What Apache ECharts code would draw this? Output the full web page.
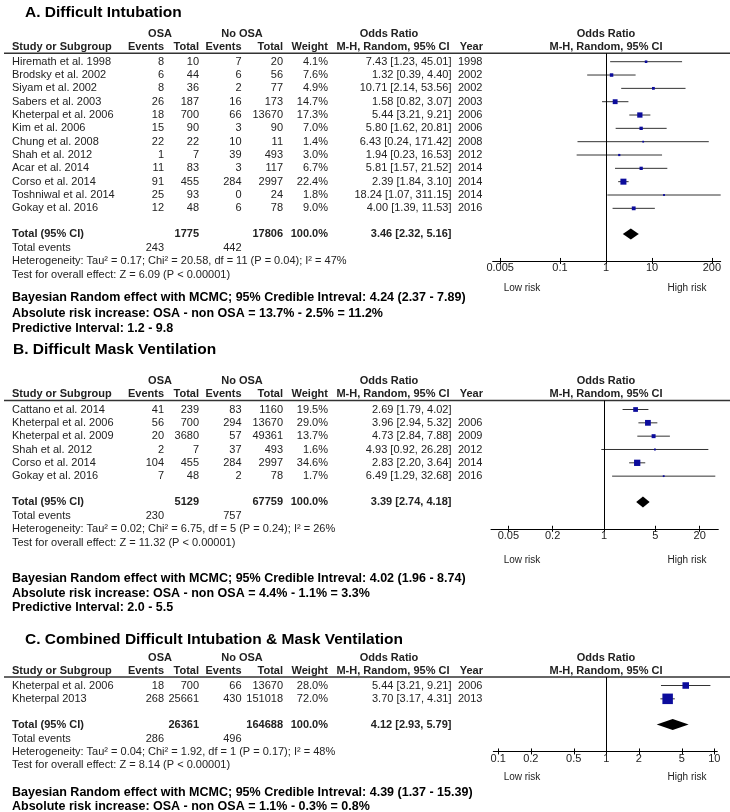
<!DOCTYPE html>
<html><head><meta charset="utf-8">
<script src="https://cdn.jsdelivr.net/npm/echarts@6/dist/echarts.min.js"></script>
<style>html,body{margin:0;padding:0;background:#fff}#c{width:730px;height:812px}</style>
</head><body><div id="c"></div>
<script>
// ---------- DATA : Panel A (Difficult Intubation) ----------
const studiesA = ['Hiremath et al. 1998','Brodsky et al. 2002','Siyam et al. 2002','Sabers et al. 2003','Kheterpal et al. 2006','Kim et al. 2006','Chung et al. 2008','Shah et al. 2012','Acar et al. 2014','Corso et al. 2014','Toshniwal et al. 2014','Gokay et al. 2016'];
const osaEventsA = [8,6,8,26,18,15,22,1,11,91,25,12];
const osaTotalA  = [10,44,36,187,700,90,22,7,83,455,93,48];
const noEventsA  = [7,6,2,16,66,3,10,39,3,284,0,6];
const noTotalA   = [20,56,77,173,13670,90,11,493,117,2997,24,78];
const weightA    = [4.1,7.6,4.9,14.7,17.3,7.0,1.4,3.0,6.7,22.4,1.8,9.0];
const orA        = [7.43,1.32,10.71,1.58,5.44,5.80,6.43,1.94,5.81,2.39,18.24,4.00];
const lowA       = [1.23,0.39,2.14,0.82,3.21,1.62,0.24,0.23,1.57,1.84,1.07,1.39];
const highA      = [45.01,4.40,53.56,3.07,9.21,20.81,171.42,16.53,21.52,3.10,311.15,11.53];
const yearA      = ['1998','2002','2002','2003','2006','2006','2008','2012','2014','2014','2014','2016'];
const totalsA    = [1775,17806];
const eventsA    = [243,442];
const pooledA    = [3.46,2.32,5.16];
const ticksA     = [0.005,0.1,1,10,200];
const tickLabelsA= ['0.005','0.1','1','10','200'];
const statsA = ['Heterogeneity: Tau² = 0.17; Chi² = 20.58, df = 11 (P = 0.04); I² = 47%','Test for overall effect: Z = 6.09 (P < 0.00001)'];
const notesA = ['Bayesian Random effect with MCMC; 95% Credible Intreval: 4.24 (2.37 - 7.89)','Absolute risk increase: OSA - non OSA = 13.7% - 2.5% = 11.2%','Predictive Interval: 1.2 - 9.8'];

// ---------- DATA : Panel B (Difficult Mask Ventilation) ----------
const studiesB = ['Cattano et al. 2014','Kheterpal et al. 2006','Kheterpal et al. 2009','Shah et al. 2012','Corso et al. 2014','Gokay et al. 2016'];
const osaEventsB = [41,56,20,2,104,7];
const osaTotalB  = [239,700,3680,7,455,48];
const noEventsB  = [83,294,57,37,284,2];
const noTotalB   = [1160,13670,49361,493,2997,78];
const weightB    = [19.5,29.0,13.7,1.6,34.6,1.7];
const orB        = [2.69,3.96,4.73,4.93,2.83,6.49];
const lowB       = [1.79,2.94,2.84,0.92,2.20,1.29];
const highB      = [4.02,5.32,7.88,26.28,3.64,32.68];
const yearB      = ['','2006','2009','2012','2014','2016'];
const totalsB    = [5129,67759];
const eventsB    = [230,757];
const pooledB    = [3.39,2.74,4.18];
const ticksB     = [0.05,0.2,1,5,20];
const tickLabelsB= ['0.05','0.2','1','5','20'];
const statsB = ['Heterogeneity: Tau² = 0.02; Chi² = 6.75, df = 5 (P = 0.24); I² = 26%','Test for overall effect: Z = 11.32 (P < 0.00001)'];
const notesB = ['Bayesian Random effect with MCMC; 95% Credible Intreval: 4.02 (1.96 - 8.74)','Absolute risk increase: OSA - non OSA = 4.4% - 1.1% = 3.3%','Predictive Interval: 2.0 - 5.5'];

// ---------- DATA : Panel C (Combined) ----------
const studiesC = ['Kheterpal et al. 2006','Kheterpal 2013'];
const osaEventsC = [18,268];
const osaTotalC  = [700,25661];
const noEventsC  = [66,430];
const noTotalC   = [13670,151018];
const weightC    = [28.0,72.0];
const orC        = [5.44,3.70];
const lowC       = [3.21,3.17];
const highC      = [9.21,4.31];
const yearC      = ['2006','2013'];
const totalsC    = [26361,164688];
const eventsC    = [286,496];
const pooledC    = [4.12,2.93,5.79];
const ticksC     = [0.1,0.2,0.5,1,2,5,10];
const tickLabelsC= ['0.1','0.2','0.5','1','2','5','10'];
const statsC = ['Heterogeneity: Tau² = 0.04; Chi² = 1.92, df = 1 (P = 0.17); I² = 48%','Test for overall effect: Z = 8.14 (P < 0.00001)'];
const notesC = ['Bayesian Random effect with MCMC; 95% Credible Intreval: 4.39 (1.37 - 15.39)','Absolute risk increase: OSA - non OSA = 1.1% - 0.3% = 0.8%'];

const titles = ['A. Difficult Intubation','B. Difficult Mask Ventilation','C. Combined Difficult Intubation & Mask Ventilation'];

// ---------- LAYOUT ----------
const FONT = '"Liberation Sans", Arial, Helvetica, sans-serif';
const INK = '#222';
const ROW = 13.33;
const COL = {name:12, ev1:164, tot1:199, ev2:241.5, tot2:283, wt:328, or:451.5, orHdr:449.5, year:458, yearHdr:483, osaC:160, noC:242, orC:389, fpC:606, low:522, high:687};
const layouts = [
  {tx:25, ty:13,  line:53.3,  row0:61.7,  gl:492.7, gr:720.7, xmin:-2.463, xmax:2.493, riskY:288, notesY:[298,313.5,328.5], sq:6},
  {tx:13, ty:350, line:400.5, row0:409.5, gl:491,   gr:718.3, xmin:-1.537, xmax:1.555, riskY:560, notesY:[579,593.5,607.5], sq:6.3},
  {tx:25, ty:640, line:677,   row0:685.5, gl:493.3, gr:717.3, xmin:-1.046, xmax:1.028, riskY:777, notesY:[793,807], sq:10.5}
];
const panels = [
  {studies:studiesA, ev1:osaEventsA, tot1:osaTotalA, ev2:noEventsA, tot2:noTotalA, w:weightA, or:orA, lo:lowA, hi:highA, yr:yearA, totals:totalsA, events:eventsA, pooled:pooledA, ticks:ticksA, labels:tickLabelsA, stats:statsA, notes:notesA},
  {studies:studiesB, ev1:osaEventsB, tot1:osaTotalB, ev2:noEventsB, tot2:noTotalB, w:weightB, or:orB, lo:lowB, hi:highB, yr:yearB, totals:totalsB, events:eventsB, pooled:pooledB, ticks:ticksB, labels:tickLabelsB, stats:statsB, notes:notesB},
  {studies:studiesC, ev1:osaEventsC, tot1:osaTotalC, ev2:noEventsC, tot2:noTotalC, w:weightC, or:orC, lo:lowC, hi:highC, yr:yearC, totals:totalsC, events:eventsC, pooled:pooledC, ticks:ticksC, labels:tickLabelsC, stats:statsC, notes:notesC}
];

function txt(x, y, s, o) {
  o = o || {};
  return {type:'text', x:x, y:y, silent:true, z:10,
    style:{text:String(s), fill:o.fill || INK, font:(o.bold ? 'bold ' : '') + (o.size || 11) + 'px ' + FONT,
      textAlign:o.align || 'left', textVerticalAlign:'middle', verticalAlign:'middle'}};
}
const fmtCI = (a,b,c) => a.toFixed(2) + ' [' + b.toFixed(2) + ', ' + c.toFixed(2) + ']';

const grids = [], xAxes = [], yAxes = [], series = [], graphics = [];

panels.forEach((D, gi) => {
  const L = layouts[gi];
  const n = D.studies.length;
  const rowY = r => L.row0 + r * ROW;
  const totalR = n + 0.93;
  const totalY = rowY(totalR);
  const evY = totalY + 14;
  const hetY = totalY + 27.4;
  const testY = hetY + 13.4;
  const axisY = hetY - 0.5;

  grids.push({left:L.gl, width:L.gr - L.gl, top:L.line, height:axisY - L.line, containLabel:false});
  const lv = D.ticks.map(Math.log10);
  const labs = D.labels;
  const fmt = v => { let k = 0, d = 1e9; lv.forEach((t,i) => { const e = Math.abs(t - v); if (e < d) { d = e; k = i; } }); return labs[k]; };
  xAxes.push({type:'value', gridIndex:gi, min:L.xmin, max:L.xmax, position:'bottom',
    axisLine:{show:true, onZero:false, lineStyle:{color:'#000', width:1}},
    axisTick:{show:true, customValues:lv, length:3, inside:false, lineStyle:{color:'#000', width:1}},
    axisLabel:{show:true, customValues:lv, margin:2, color:INK, fontSize:11, fontFamily:FONT, formatter:fmt},
    splitLine:{show:false}});
  xAxes.push({type:'value', gridIndex:gi, min:L.xmin, max:L.xmax, position:'bottom',
    axisLine:{show:false, onZero:false},
    axisTick:{show:true, customValues:lv, length:3, inside:true, lineStyle:{color:'#000', width:1}},
    axisLabel:{show:false}, splitLine:{show:false}});
  const ymin = -(L.row0 - L.line) / ROW;
  yAxes.push({type:'value', gridIndex:gi, inverse:true, min:ymin, max:ymin + (axisY - L.line) / ROW, show:false});

  const wmax = Math.max.apply(null, D.w);
  const S = L.sq;
  series.push({
    type:'custom', name:'studies' + gi, xAxisIndex:gi * 2, yAxisIndex:gi, clip:false,
    data:D.studies.map((s,i) => [Math.log10(D.or[i]), i, Math.log10(D.lo[i]), Math.log10(D.hi[i]), D.w[i]]),
    encode:{x:0, y:1},
    renderItem:(params, api) => {
      const r = api.value(1);
      const c = api.coord([api.value(0), r]);
      const l = api.coord([api.value(2), r]);
      const h = api.coord([api.value(3), r]);
      const s = Math.max(1.8, S * Math.sqrt(api.value(4) / wmax));
      return {type:'group', children:[
        {type:'line', shape:{x1:l[0], y1:c[1], x2:h[0], y2:c[1]}, style:{stroke:'#333', lineWidth:1}},
        {type:'rect', shape:{x:c[0] - s/2, y:c[1] - s/2, width:s, height:s}, style:{fill:'#0c0c9c'}}
      ]};
    },
    markLine:{silent:true, symbol:['none','none'], label:{show:false}, animation:false,
      lineStyle:{color:'#000', width:1, type:'solid'}, data:[{xAxis:0}]}
  });
  series.push({
    type:'custom', name:'pooled' + gi, xAxisIndex:gi * 2, yAxisIndex:gi, clip:false,
    data:[[Math.log10(D.pooled[0]), totalR, Math.log10(D.pooled[1]), Math.log10(D.pooled[2])]],
    encode:{x:0, y:1},
    renderItem:(params, api) => {
      const r = api.value(1);
      const c = api.coord([api.value(0), r]);
      const l = api.coord([api.value(2), r]);
      const h = api.coord([api.value(3), r]);
      return {type:'polygon', shape:{points:[[l[0], c[1]], [c[0], c[1] - 5.5], [h[0], c[1]], [c[0], c[1] + 5.5]]}, style:{fill:'#000'}};
    }
  });

  graphics.push(txt(L.tx, L.ty, titles[gi], {bold:true, size:15.5, fill:'#000'}));
  const h1 = L.line - 19.3, h2 = L.line - 6.3;
  graphics.push(txt(COL.osaC, h1, 'OSA', {bold:true, align:'center'}));
  graphics.push(txt(COL.noC, h1, 'No OSA', {bold:true, align:'center'}));
  graphics.push(txt(COL.orC, h1, 'Odds Ratio', {bold:true, align:'center'}));
  graphics.push(txt(COL.fpC, h1, 'Odds Ratio', {bold:true, align:'center'}));
  graphics.push(txt(COL.name, h2, 'Study or Subgroup', {bold:true}));
  graphics.push(txt(COL.ev1, h2, 'Events', {bold:true, align:'right'}));
  graphics.push(txt(COL.tot1, h2, 'Total', {bold:true, align:'right'}));
  graphics.push(txt(COL.ev2, h2, 'Events', {bold:true, align:'right'}));
  graphics.push(txt(COL.tot2, h2, 'Total', {bold:true, align:'right'}));
  graphics.push(txt(COL.wt, h2, 'Weight', {bold:true, align:'right'}));
  graphics.push(txt(COL.orHdr, h2, 'M-H, Random, 95% CI', {bold:true, align:'right'}));
  graphics.push(txt(COL.yearHdr, h2, 'Year', {bold:true, align:'right'}));
  graphics.push(txt(COL.fpC, h2, 'M-H, Random, 95% CI', {bold:true, align:'center'}));
  graphics.push({type:'line', silent:true, z:5, shape:{x1:4, y1:L.line, x2:730, y2:L.line}, style:{stroke:'#333', lineWidth:1.5}});

  D.studies.forEach((s, i) => {
    const y = rowY(i);
    graphics.push(txt(COL.name, y, s));
    graphics.push(txt(COL.ev1, y, D.ev1[i], {align:'right'}));
    graphics.push(txt(COL.tot1, y, D.tot1[i], {align:'right'}));
    graphics.push(txt(COL.ev2, y, D.ev2[i], {align:'right'}));
    graphics.push(txt(COL.tot2, y, D.tot2[i], {align:'right'}));
    graphics.push(txt(COL.wt, y, D.w[i].toFixed(1) + '%', {align:'right'}));
    graphics.push(txt(COL.or, y, fmtCI(D.or[i], D.lo[i], D.hi[i]), {align:'right'}));
    if (D.yr[i]) graphics.push(txt(COL.year, y, D.yr[i]));
  });
  graphics.push(txt(COL.name, totalY, 'Total (95% CI)', {bold:true}));
  graphics.push(txt(COL.tot1, totalY, D.totals[0], {bold:true, align:'right'}));
  graphics.push(txt(COL.tot2, totalY, D.totals[1], {bold:true, align:'right'}));
  graphics.push(txt(COL.wt, totalY, '100.0%', {bold:true, align:'right'}));
  graphics.push(txt(COL.or, totalY, fmtCI(D.pooled[0], D.pooled[1], D.pooled[2]), {bold:true, align:'right'}));
  graphics.push(txt(COL.name, evY, 'Total events'));
  graphics.push(txt(COL.ev1, evY, D.events[0], {align:'right'}));
  graphics.push(txt(COL.ev2, evY, D.events[1], {align:'right'}));
  graphics.push(txt(COL.name, hetY, D.stats[0]));
  graphics.push(txt(COL.name, testY, D.stats[1]));
  graphics.push(txt(COL.low, L.riskY, 'Low risk', {size:10, align:'center'}));
  graphics.push(txt(COL.high, L.riskY, 'High risk', {size:10, align:'center'}));
  D.notes.forEach((s, k) => graphics.push(txt(COL.name, L.notesY[k], s, {bold:true, size:12.5, fill:'#000'})));
});

const chart = echarts.init(document.getElementById('c'), null, {renderer:'canvas'});
chart.setOption({
  animation:false,
  backgroundColor:'#fff',
  grid:grids, xAxis:xAxes, yAxis:yAxes, series:series, graphic:graphics
});
</script></body></html>
